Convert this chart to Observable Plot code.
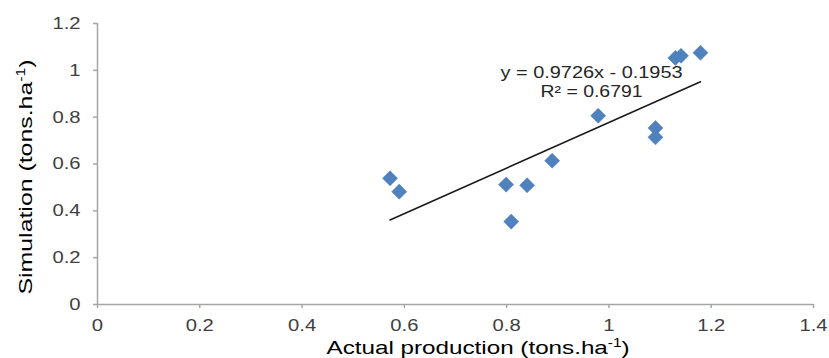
<!DOCTYPE html>
<html>
<head>
<meta charset="utf-8">
<script src="https://cdn.jsdelivr.net/npm/d3@7"></script>
<script src="https://cdn.jsdelivr.net/npm/@observablehq/plot@0.6"></script>
<style>
  html, body { margin: 0; padding: 0; background: #fff; overflow: hidden; }
  #chart { width: 829px; height: 358px; }
  svg { font-family: "Liberation Sans", Arial, sans-serif; }
</style>
</head>
<body>
<div id="chart"></div>
<script>
// Data
const actual     = [0.572, 0.590, 0.799, 0.809, 0.840, 0.889, 0.979, 1.091, 1.091, 1.130, 1.141, 1.179];
const simulation = [0.539, 0.482, 0.512, 0.354, 0.509, 0.614, 0.806, 0.754, 0.714, 1.053, 1.062, 1.075];
const slope = 0.9726;
const intercept = -0.1953;
const equationLabel = "y = 0.9726x - 0.1953";
const r2Label = "R² = 0.6791";
const xTicks = [0, 0.2, 0.4, 0.6, 0.8, 1, 1.2, 1.4];
const yTicks = [0, 0.2, 0.4, 0.6, 0.8, 1, 1.2];

const points = actual.map((x, i) => ({x, y: simulation[i]}));
const xMin = d3.min(actual), xMax = d3.max(actual);
const trend = [xMin, xMax].map(x => ({x, y: slope * x + intercept}));

const axisGray = "#a6a6a6";
const labelGray = "#404040";

const plot = Plot.plot({
  width: 829,
  height: 358,
  marginLeft: 97,
  marginRight: 16,
  marginTop: 23,
  marginBottom: 54,
  style: {fontFamily: "'Liberation Sans', Arial, sans-serif", fontSize: "17px", background: "#fff", overflow: "hidden"},
  x: {domain: [0, 1.4]},
  y: {domain: [0, 1.2]},
  marks: [
    Plot.ruleY([0], {stroke: axisGray, strokeWidth: 1.5}),
    Plot.ruleX([0], {stroke: axisGray, strokeWidth: 1.5}),
    Plot.axisX({ticks: xTicks, tickFormat: d => String(d), tickSize: 4, tickPadding: 10, stroke: axisGray, strokeWidth: 1.5, fill: labelGray, fontSize: 17, label: null, className: "tickx"}),
    Plot.axisY({ticks: yTicks, tickFormat: d => String(d), tickSize: 4, tickPadding: 13, stroke: axisGray, strokeWidth: 1.5, fill: labelGray, fontSize: 17, label: null, className: "ticky"}),
    Plot.dot(points, {x: "x", y: "y", symbol: "diamond2", r: 6.8, fill: "#4f81bd", stroke: "#4f81bd", strokeWidth: 0.5}),
    Plot.line(trend, {x: "x", y: "y", stroke: "#1a1a1a", strokeWidth: 1.6}),
    Plot.text([equationLabel], {x: 0.966, y: 0.99, text: d => d, fontSize: 16, fill: "#262626", className: "eq1"}),
    Plot.text([r2Label], {x: 0.966, y: 0.909, text: d => d, fontSize: 16, fill: "#262626", className: "eq2"})
  ]
});

const svg = d3.select(plot);
// x-axis title
const xt = svg.append("text")
  .attr("class", "xtitle")
  .attr("x", 478).attr("y", 354)
  .attr("text-anchor", "middle")
  .attr("font-size", 19)
  .attr("fill", "#000");
xt.append("tspan").text("Actual production (tons.ha");
xt.append("tspan").attr("dy", -7).attr("font-size", 12).text("-1");
xt.append("tspan").attr("dy", 7).text(")");

// y-axis title
const yt = svg.append("text")
  .attr("class", "ytitle")
  .attr("transform", "translate(32,177) rotate(-90)")
  .attr("text-anchor", "middle")
  .attr("font-size", 19)
  .attr("fill", "#000");
yt.append("tspan").text("Simulation (tons.ha");
yt.append("tspan").attr("dy", -7).attr("font-size", 12).text("-1");
yt.append("tspan").attr("dy", 7).text(")");

document.getElementById("chart").appendChild(plot);

// The reference's text is horizontally widened; stretch glyphs to match.
function stretch(sel, factor) {
  sel.each(function() {
    const len = this.getComputedTextLength();
    this.setAttribute("textLength", (len * factor).toFixed(1));
    this.setAttribute("lengthAdjust", "spacingAndGlyphs");
  });
}
stretch(svg.selectAll(".tickx text, .ticky text"), 1.19);
function setLength(sel, target) {
  sel.each(function() {
    this.setAttribute("textLength", target);
    this.setAttribute("lengthAdjust", "spacingAndGlyphs");
  });
}
setLength(svg.selectAll(".eq1 text"), 182);
setLength(svg.selectAll(".eq2 text"), 102);
setLength(svg.select(".xtitle"), 303);
setLength(svg.select(".ytitle"), 235);
</script>
</body>
</html>
